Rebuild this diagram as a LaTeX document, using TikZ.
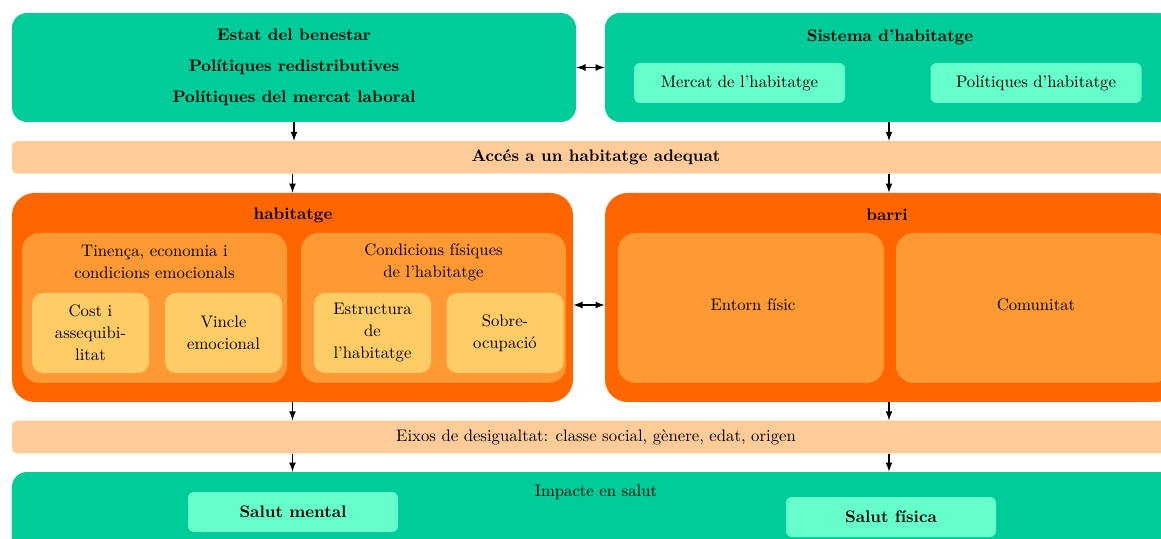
\documentclass[tikz,border=0pt]{standalone}
\usepackage{fontspec}
\usetikzlibrary{arrows}

% colours of the scheme
\definecolor{verd}{HTML}{00CC99}
\definecolor{verdclar}{HTML}{66FFCC}
\definecolor{taronja}{HTML}{FF6600}
\definecolor{taronjamig}{HTML}{FF9933}
\definecolor{taronjaclar}{HTML}{FFCC66}
\definecolor{preseg}{HTML}{FFCC99}

\begin{document}
\begin{tikzpicture}[>=latex, font=\fontsize{9.5}{12.5}\selectfont,
	caixa/.style={fill=#1, inner sep=0pt, align=center},
	banda/.style={fill=preseg, rounded corners=0.1cm, minimum width=23.36cm, minimum height=0.65cm, inner sep=0pt},
	fletxa/.style={->, thick}]
	% fix the size of the picture
	\useasboundingbox (0,0) rectangle (23.22,-10.78);

	% top row: welfare state and housing system
	\node[caixa=verd, rounded corners=0.3cm, minimum width=11.28cm, minimum height=2.18cm, font=\fontsize{9.5}{12.5}\selectfont\bfseries] (estat) at (5.88,-1.35)
		{Estat del benestar\\[5pt] Polítiques redistributives\\[5pt] Polítiques del mercat laboral};
	\node[caixa=verd, rounded corners=0.3cm, minimum width=11.36cm, minimum height=2.18cm] (sistema) at (17.78,-1.35) {};
	\node[font=\fontsize{9.5}{12.5}\selectfont\bfseries] (sistematxt) at (17.8,-0.74) {Sistema d’habitatge};
	\node[caixa=verdclar, rounded corners=0.12cm, minimum width=4.22cm, minimum height=0.8cm] (mercat) at (14.79,-1.66) {Mercat de l’habitatge};
	\node[caixa=verdclar, rounded corners=0.12cm, minimum width=4.22cm, minimum height=0.8cm] (polhab) at (20.72,-1.66) {Polítiques d’habitatge};
	\draw[<->, thick] (estat) -- (sistema);

	% access band
	\node[banda, font=\fontsize{9.5}{12.5}\selectfont\bfseries] (acces) at (11.92,-3.15) {Accés a un habitatge adequat};
	\draw[fletxa] (estat.south) -- (estat.south |- acces.north);
	\draw[fletxa] (sistema.south) -- (sistema.south |- acces.north);

	% dwelling
	\node[caixa=taronja, rounded corners=0.45cm, minimum width=11.22cm, minimum height=4.18cm] (habitatge) at (5.85,-5.95) {};
	\node[font=\fontsize{9.5}{12.5}\selectfont\bfseries] (habtxt) at (5.86,-4.30) {habitatge};
	\node[caixa=taronjamig, rounded corners=0.35cm, minimum width=5.3cm, minimum height=3cm] (tinenca) at (3.09,-6.16) {};
	\node[align=center] (tinencatxt) at (3.09,-5.24) {Tinença, economia i\\condicions emocionals};
	\node[caixa=taronjamig, rounded corners=0.35cm, minimum width=5.3cm, minimum height=3cm] (condicions) at (8.67,-6.16) {};
	\node[align=center] (condtxt) at (8.67,-5.24) {Condicions físiques\\de l’habitatge};
	\node[caixa=taronjaclar, rounded corners=0.22cm, minimum width=2.34cm, minimum height=1.6cm] (cost) at (1.81,-6.66) {Cost i\\assequibi-\\litat};
	\node[caixa=taronjaclar, rounded corners=0.22cm, minimum width=2.34cm, minimum height=1.6cm] (vincle) at (4.47,-6.66) {Vincle\\emocional};
	\node[caixa=taronjaclar, rounded corners=0.22cm, minimum width=2.34cm, minimum height=1.6cm] (estructura) at (7.45,-6.66) {Estructura\\de\\l’habitatge};
	\node[caixa=taronjaclar, rounded corners=0.22cm, minimum width=2.34cm, minimum height=1.6cm] (sobre) at (10.10,-6.66) {Sobre-\\ocupació};

	% neighbourhood
	\node[caixa=taronja, rounded corners=0.45cm, minimum width=11.46cm, minimum height=4.18cm] (barri) at (17.83,-5.95) {};
	\node[font=\fontsize{9.5}{12.5}\selectfont\bfseries] (barritxt) at (17.74,-4.30) {barri};
	\node[caixa=taronjamig, rounded corners=0.35cm, minimum width=5.32cm, minimum height=3cm] (entorn) at (15.02,-6.16) {};
	\node (entorntxt) at (15.06,-6.10) {Entorn físic};
	\node[caixa=taronjamig, rounded corners=0.35cm, minimum width=5.48cm, minimum height=3cm] (comunitat) at (20.66,-6.16) {};
	\node (comtxt) at (20.72,-6.10) {Comunitat};
	\draw[<->, thick] (habitatge.east |- entorntxt) -- (barri.west |- entorntxt);
	\draw[fletxa] (habitatge.north |- acces.south) -- (habitatge.north);
	\draw[fletxa] (sistema.south |- acces.south) -- (sistema.south |- barri.north);

	% inequality band
	\node[banda] (eixos) at (11.92,-8.74) {Eixos de desigualtat: classe social, gènere, edat, origen};
	\draw[fletxa] (habitatge.south) -- (habitatge.south |- eixos.north);
	\draw[fletxa] (sistema.south |- barri.south) -- (sistema.south |- eixos.north);

	% health impact
	\node[caixa=verd, rounded corners=0.3cm, minimum width=23.36cm, minimum height=2cm] (impacte) at (11.92,-10.44) {};
	\node (impactetxt) at (11.92,-9.84) {Impacte en salut};
	\node[caixa=verdclar, rounded corners=0.12cm, minimum width=4.2cm, minimum height=0.8cm, font=\fontsize{9.5}{12.5}\selectfont\bfseries] (mental) at (5.86,-10.24) {Salut mental};
	\node[caixa=verdclar, rounded corners=0.12cm, minimum width=4.2cm, minimum height=0.8cm, font=\fontsize{9.5}{12.5}\selectfont\bfseries] (fisica) at (17.82,-10.34) {Salut física};
	\draw[fletxa] (habitatge.south |- eixos.south) -- (habitatge.south |- impacte.north);
	\draw[fletxa] (sistema.south |- eixos.south) -- (sistema.south |- impacte.north);
\end{tikzpicture}
\end{document}
